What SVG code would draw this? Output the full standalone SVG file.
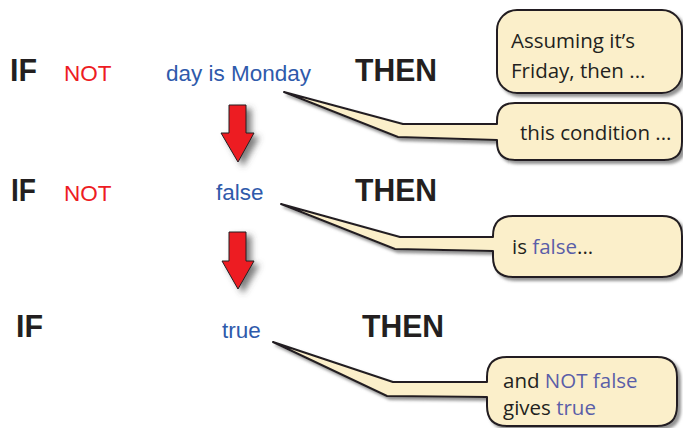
<svg xmlns="http://www.w3.org/2000/svg" width="683" height="428" viewBox="0 0 683 428">
<defs>
<filter id="sh" x="-20%" y="-20%" width="140%" height="150%">
<feDropShadow dx="3" dy="3" stdDeviation="1.5" flood-color="#777" flood-opacity="0.8"/>
</filter>
<filter id="ash" x="-50%" y="-20%" width="200%" height="150%">
<feDropShadow dx="5" dy="4" stdDeviation="3" flood-color="#444" flood-opacity="0.7"/>
</filter>
<style>
.kw{font-family:"Liberation Sans",Arial,sans-serif;font-weight:bold;font-size:32px;fill:#231f20}
.not{font-family:"Liberation Sans",Arial,sans-serif;font-size:22.5px;fill:#ed1c24}
.val{font-family:"Liberation Sans",Arial,sans-serif;font-size:22.5px;fill:#2f5aab}
.co{fill:#fbefca;stroke:#231f20;stroke-width:2;stroke-linejoin:round;filter:url(#sh)}
.ct{font-family:"Open Sans","Noto Sans",sans-serif;font-size:20.5px;fill:#231f20}
.hl{fill:#5a5ea8}
.arr{fill:#ed1c24;stroke:#231f20;stroke-width:1;filter:url(#ash)}
</style>
</defs>

<g id="row1">
<text class="kw" x="10" y="81" textLength="27" lengthAdjust="spacingAndGlyphs">IF</text>
<text class="not" x="64" y="81">NOT</text>
<text class="val" x="166" y="81">day is Monday</text>
<text class="kw" x="355" y="81" textLength="82" lengthAdjust="spacingAndGlyphs">THEN</text>
</g>
<g id="row2">
<text class="kw" x="11" y="201" textLength="25" lengthAdjust="spacingAndGlyphs">IF</text>
<text class="not" x="64" y="201">NOT</text>
<text class="val" x="216" y="200">false</text>
<text class="kw" x="355" y="201" textLength="82" lengthAdjust="spacingAndGlyphs">THEN</text>
</g>
<g id="row3">
<text class="kw" x="16" y="337" textLength="27" lengthAdjust="spacingAndGlyphs">IF</text>
<text class="val" x="222" y="338">true</text>
<text class="kw" x="362" y="337" textLength="82" lengthAdjust="spacingAndGlyphs">THEN</text>
</g>

<g id="connectors">
<path class="arr" d="M229,105 H246 V133 H254 L238,162 L221,133 H229 Z"/>
<path class="arr" d="M229,232 H246 V261 H254 L238,289 L222,261 H229 Z"/>
</g>

<g id="callout1">
<rect class="co" x="497" y="10" width="185" height="83" rx="20" ry="20"/>
<text class="ct" x="511" y="48">Assuming it’s</text>
<text class="ct" x="511" y="78">Friday, then ...</text>
</g>
<g id="callout2">
<path class="co" d="M515,103 H664 Q682,103 682,121 V142 Q682,160 664,160 H515 Q497,160 497,142 V140 L398,137 L284,92 L403,124 H497 V121 Q497,103 515,103 Z"/>
<text class="ct" x="520" y="140">this condition ...</text>
</g>
<g id="callout3">
<path class="co" d="M513,216 H662 Q682,216 682,236 V257 Q682,277 662,277 H513 Q493,277 493,257 V251 L395,249 L281,204 L400,237 H493 V236 Q493,216 513,216 Z"/>
<text class="ct" x="512" y="254">is <tspan class="hl">false</tspan>...</text>
</g>
<g id="callout4">
<path class="co" d="M507,357 H657 Q677,357 677,377 V406 Q677,426 657,426 H507 Q487,426 487,406 V397 L387,396 L273,342 L393,382 H487 V377 Q487,357 507,357 Z"/>
<text class="ct" x="503" y="388">and <tspan class="hl">NOT false</tspan></text>
<text class="ct" x="503" y="415">gives <tspan class="hl">true</tspan></text>
</g>
</svg>
